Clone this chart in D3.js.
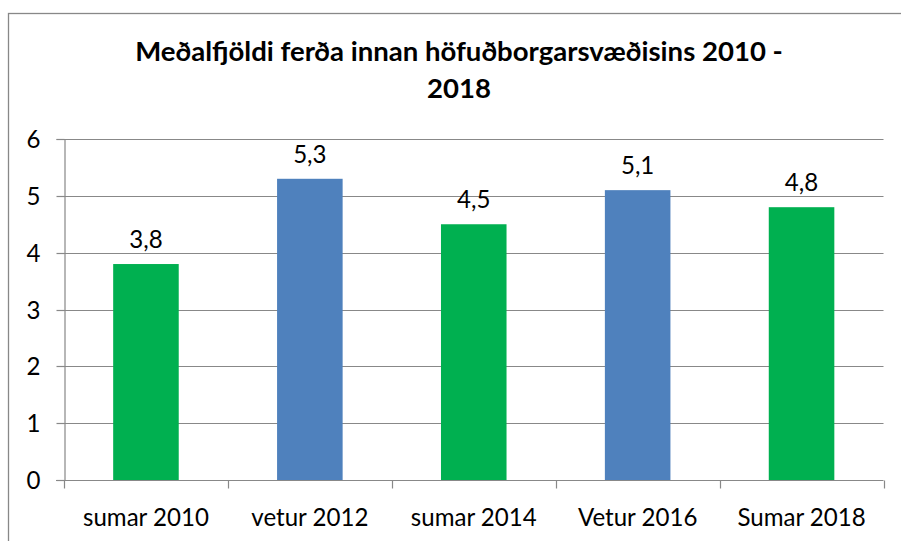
<!DOCTYPE html>
<html><head><meta charset="utf-8">
<script src="https://cdn.jsdelivr.net/npm/d3@7"></script>
<style>body{margin:0;background:#fff}svg{display:block}</style>
</head><body>
<script>
const categories = ["sumar 2010", "vetur 2012", "sumar 2014", "Vetur 2016", "Sumar 2018"];
const values = [3.8, 5.3, 4.5, 5.1, 4.8];
const barColors = ["#00B050", "#4F81BD", "#00B050", "#4F81BD", "#00B050"];
const yTicks = [0, 1, 2, 3, 4, 5, 6];
const titleLines = ["Meðalfjöldi ferða innan höfuðborgarsvæðisins 2010 -", "2018"];
const fmt = v => String(v).replace(".", ",");

const W = 901, H = 541;
const FONT = "Lato, 'Open Sans', sans-serif";
const svg = d3.select("body").append("svg").attr("width", W).attr("height", H);

// chart border (cropped at right/bottom)
svg.append("rect").attr("x", 8.5).attr("y", 13.5).attr("width", 1000).attr("height", 1000)
  .attr("fill", "none").attr("stroke", "#888").attr("stroke-width", 1.3);

const plot = {left: 64, right: 883.5, top: 139, bottom: 480};
const x = d3.scaleBand().domain(categories).range([plot.left, plot.right]).paddingInner(0.6).paddingOuter(0.3);
const y = d3.scaleLinear().domain([0, 6]).range([plot.bottom, plot.top]);

function fitSize(text, weight, target) {
  const t = svg.append("text").attr("font-family", FONT).attr("font-weight", weight).attr("font-size", 100).text(text);
  const w = t.node().getComputedTextLength(); t.remove();
  return 100 * target / w;
}
const labelSize = fitSize("sumar 2010", "normal", 126);
const titleSize = fitSize(titleLines[0], "bold", 648);

// gridlines
svg.append("g").selectAll("line").data(yTicks.filter(d => d > 0)).join("line")
  .attr("x1", plot.left).attr("x2", plot.right)
  .attr("y1", d => Math.round(y(d)) + 0.5).attr("y2", d => Math.round(y(d)) + 0.5)
  .attr("stroke", "#888").attr("stroke-width", 1.2);

// y axis
const yAxis = svg.append("g").attr("transform", `translate(${plot.left + 0.5},0)`)
  .call(d3.axisLeft(y).tickValues(yTicks).tickSize(8).tickPadding(16).tickFormat(d3.format("d")));
yAxis.select(".domain").attr("stroke", "#888").attr("stroke-width", 1.2);
yAxis.selectAll(".tick line").attr("stroke", "#888").attr("stroke-width", 1.2);
yAxis.selectAll(".tick text").attr("font-family", FONT).attr("font-size", labelSize).attr("fill", "#000").attr("dy", "0.36em");
yAxis.selectAll(".tick").attr("transform", d => `translate(0,${Math.round(y(d)) + 0.5})`);

// bars
svg.append("g").selectAll("rect").data(values).join("rect")
  .attr("x", (d, i) => x(categories[i]))
  .attr("width", x.bandwidth())
  .attr("y", d => y(d))
  .attr("height", d => y(0) - y(d))
  .attr("fill", (d, i) => barColors[i]);

// x axis
const xb = d3.scaleLinear().domain([0, categories.length]).range([plot.left, plot.right]);
const xg = svg.append("g").attr("transform", `translate(0,${Math.round(y(0)) + 0.5})`);
xg.append("line").attr("x1", plot.left - 8).attr("x2", plot.right).attr("stroke", "#888").attr("stroke-width", 1.2);
xg.selectAll("line.tk").data(d3.range(categories.length + 1)).join("line").attr("class", "tk")
  .attr("x1", d => Math.round(xb(d)) + 0.5).attr("x2", d => Math.round(xb(d)) + 0.5)
  .attr("y1", 0).attr("y2", 8).attr("stroke", "#888").attr("stroke-width", 1.2);
xg.selectAll("text").data(categories).join("text")
  .attr("x", d => x(d) + x.bandwidth() / 2).attr("y", 45)
  .attr("text-anchor", "middle").attr("font-family", FONT).attr("font-size", labelSize).attr("fill", "#000")
  .text(d => d);

// value labels
svg.append("g").selectAll("text").data(values).join("text")
  .attr("x", (d, i) => x(categories[i]) + x.bandwidth() / 2)
  .attr("y", d => y(d) - 16)
  .attr("text-anchor", "middle").attr("font-family", FONT).attr("font-size", labelSize).attr("fill", "#000")
  .text(d => fmt(d));

// title
svg.append("g").selectAll("text").data(titleLines).join("text")
  .attr("x", 459).attr("y", (d, i) => 61 + i * 37)
  .attr("text-anchor", "middle").attr("font-family", FONT).attr("font-weight", "bold")
  .attr("font-size", titleSize).attr("fill", "#000").text(d => d);
</script>
</body></html>
